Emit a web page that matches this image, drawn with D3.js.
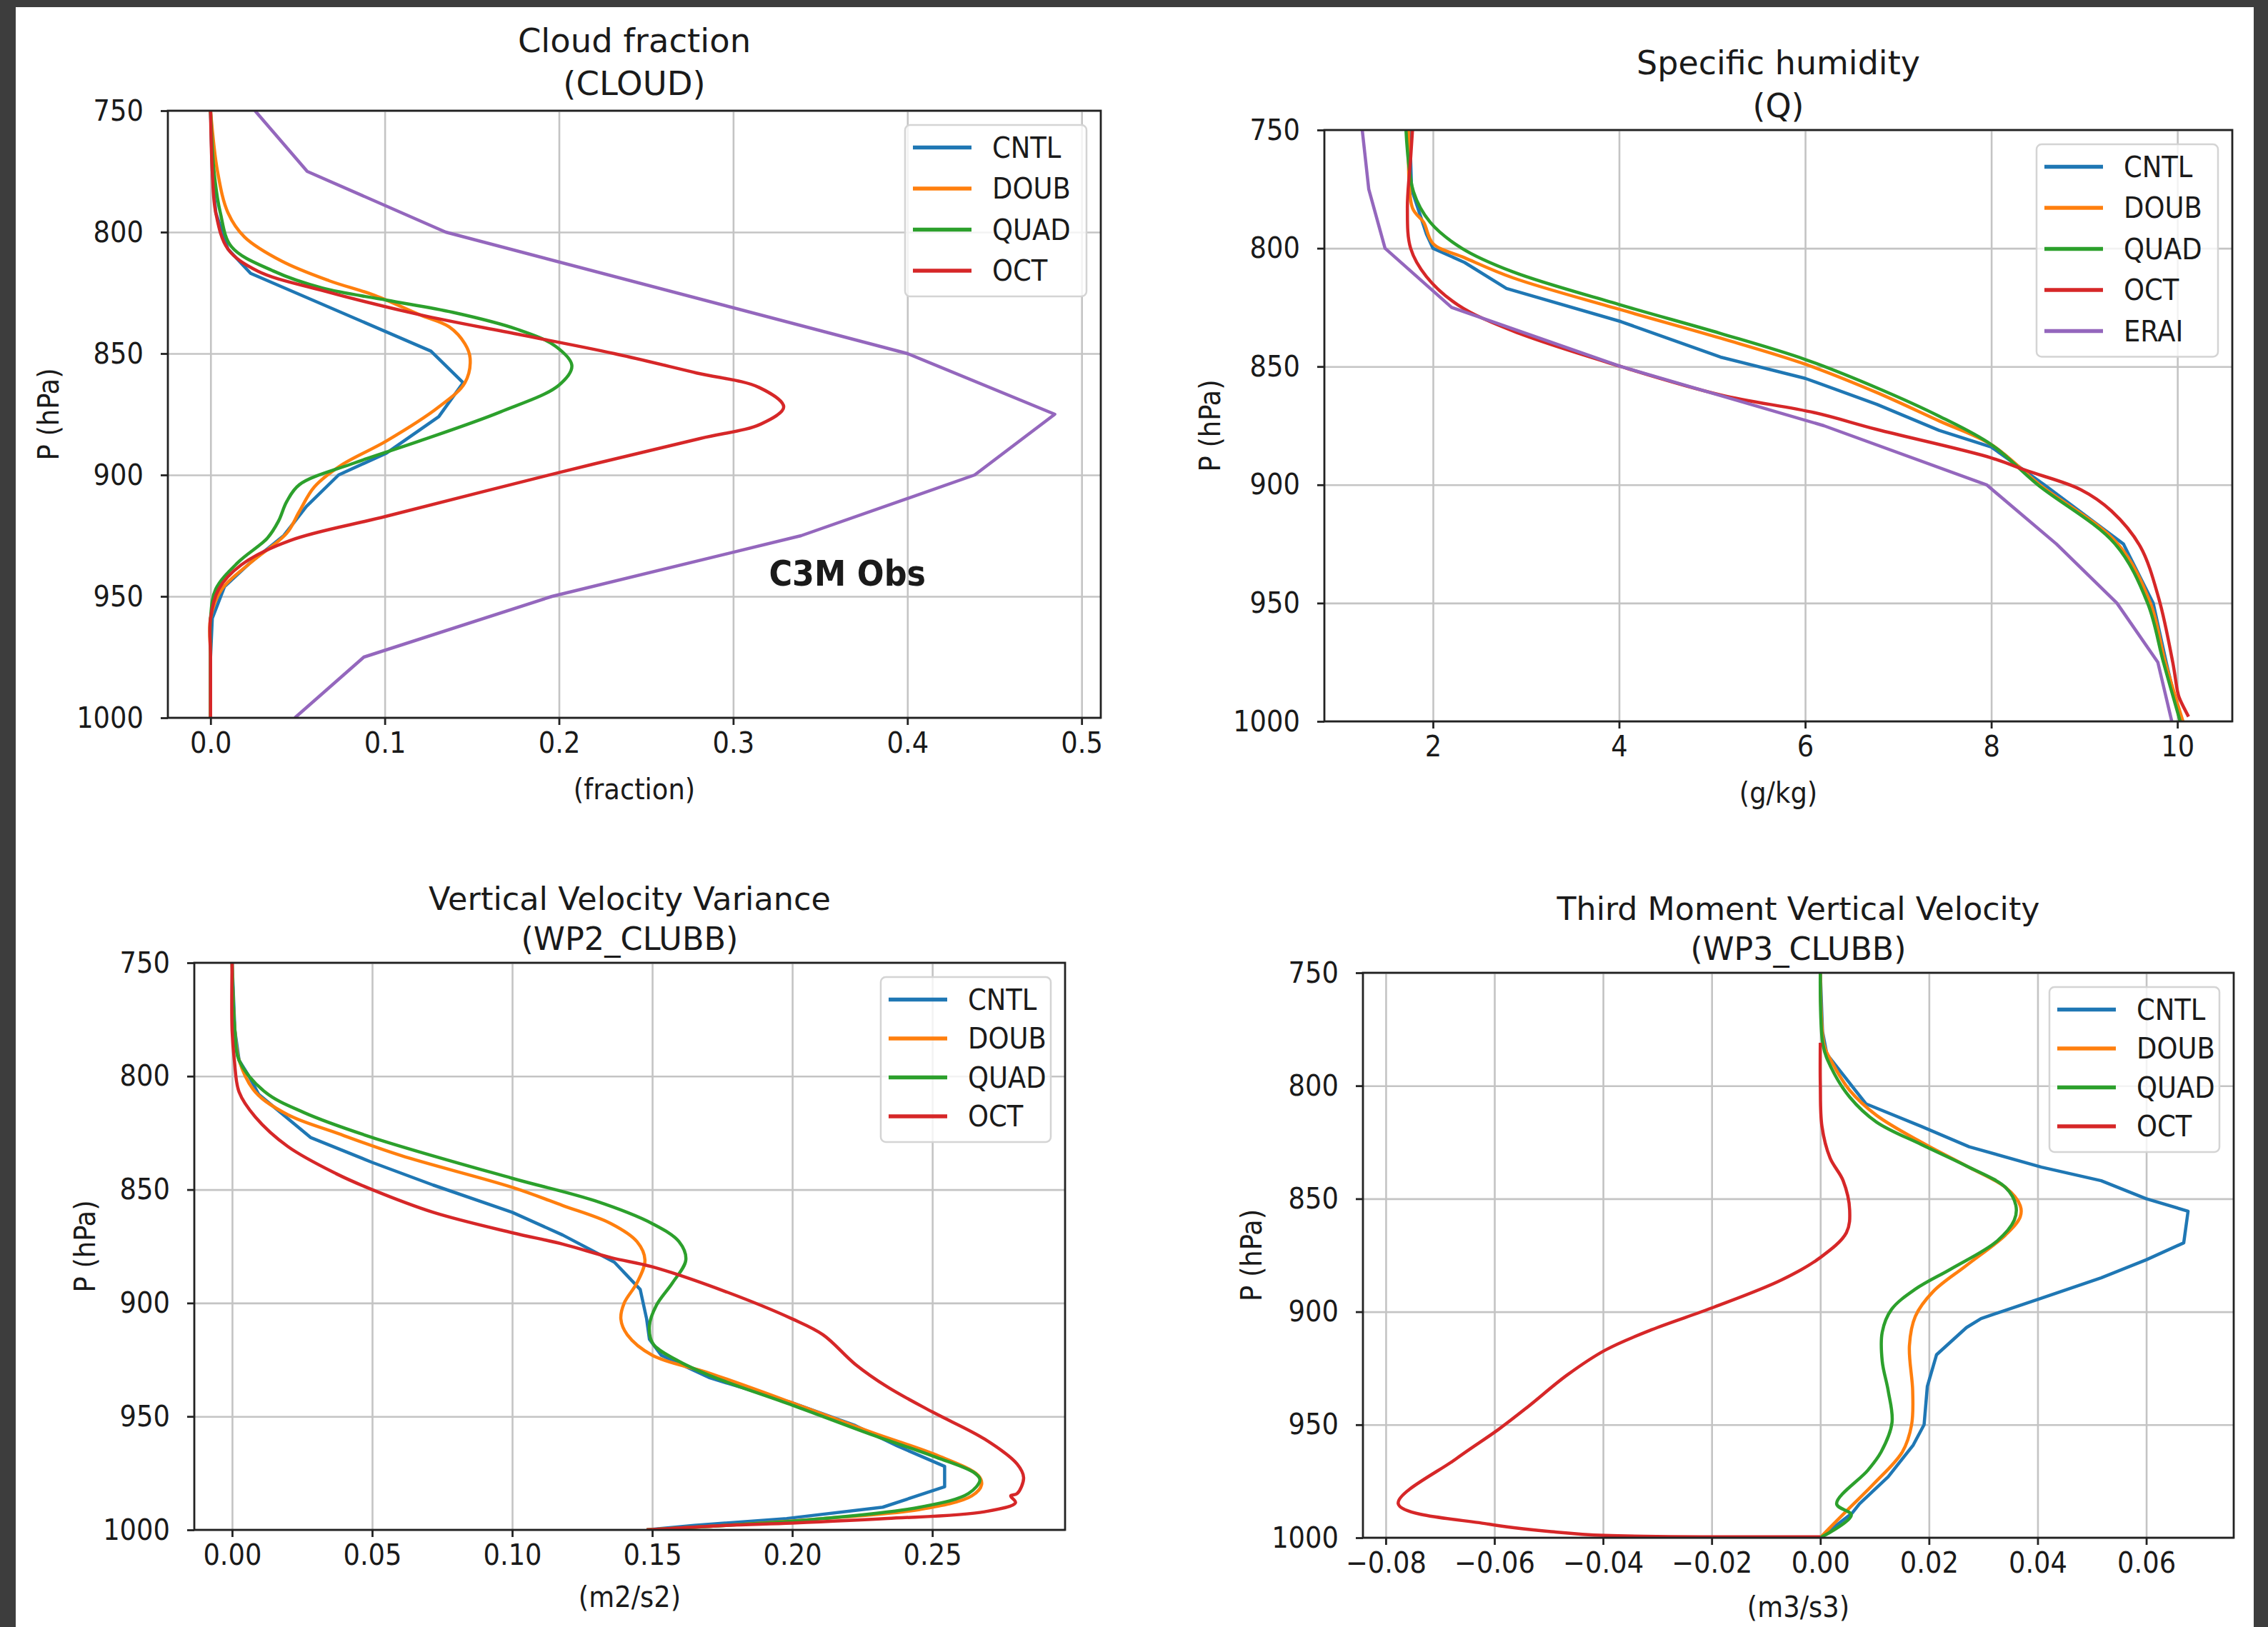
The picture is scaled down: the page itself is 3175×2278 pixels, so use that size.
<!DOCTYPE html>
<html><head><meta charset="utf-8">
<script src="https://cdn.jsdelivr.net/npm/d3@7"></script>
<style>
html,body{margin:0;padding:0;background:#fff;}
svg{display:block;}
text{font-family:"DejaVu Sans Condensed","DejaVu Sans",sans-serif;font-stretch:condensed;fill:#1a1a1a;}
.ttl{font-family:"DejaVu Sans",sans-serif;font-stretch:normal;}
</style></head><body>
<svg id="chart" width="3175" height="2278"></svg>
<script>
// ---------------- data ----------------
const seriesNames = ["CNTL","DOUB","QUAD","OCT"];
const pressureTicks = [750,800,850,900,950,1000];

// Cloud fraction (CLOUD)
const cloudXTicks = [0.0,0.1,0.2,0.3,0.4,0.5];
const cloudCNTL_p = [750,775,792,807,817,849,862,876,891,900,913,925,936,946,959,975,1000];
const cloudCNTL_v = [0.0,0.001,0.003,0.010,0.023,0.1265,0.145,0.131,0.101,0.0735,0.055,0.042,0.023,0.008,0.001,0.0,0.0];
const cloudDOUB_p = [750,775,792,802,812,820,826,834,839,846,852,862,872,886,896,905,915,924,936,947,959,975,1000];
const cloudDOUB_v = [0.0,0.004,0.010,0.0195,0.041,0.068,0.094,0.12,0.137,0.146,0.149,0.146,0.131,0.101,0.075,0.0595,0.051,0.0437,0.0232,0.0065,0.0,0.0,0.0];
const cloudQUAD_p = [750,775,792,806,816,823,828,833,840,847,855,863,874,886,895,904,911,919,926,936,947,959,975,1000];
const cloudQUAD_v = [0.0,0.002,0.0056,0.012,0.036,0.064,0.101,0.139,0.176,0.198,0.2074,0.200,0.1665,0.12,0.0828,0.051,0.0437,0.039,0.0326,0.0158,0.003,0.0,0.0,0.0];
const cloudOCT_p = [750,775,792,807,816,824,834,842,850,858,864,872,879,885,899,917,927,937,947,959,975,1000];
const cloudOCT_v = [0.0,0.001,0.003,0.010,0.027,0.064,0.12,0.176,0.2316,0.279,0.315,0.329,0.316,0.281,0.2,0.101,0.0456,0.0177,0.0047,0.0,0.0,0.0];
const cloudObs_p = [750,775,800,850,875,900,925,950,975,1000];
const cloudObs_v = [0.0255,0.0555,0.135,0.400,0.4846,0.4386,0.339,0.196,0.088,0.0484];
const cloudObsLabel = "C3M Obs";

// Specific humidity (Q), g/kg
const qXTicks = [2,4,6,8,10];
const qCNTL_p = [750,775,794,800,806,817,831,846,855,866,877,884,900,925,950,975,1000];
const qCNTL_v = [1.75,1.77,1.93,2.0,2.34,2.79,4.02,5.09,6.0,6.77,7.44,8.0,8.57,9.42,9.74,9.88,10.03];
const qDOUB_p = [750,783,789,798,804,812.5,826,838,849,861,873,883,900,925,950,975,1000];
const qDOUB_v = [1.74,1.78,1.90,2.0,2.34,2.86,4.02,5.09,6.0,6.77,7.44,8.0,8.52,9.36,9.71,9.87,10.06];
const qQUAD_p = [750,776,789,800,810,824,836,847,859,871,883,900,925,950,975,1000];
const qQUAD_v = [1.71,1.79,1.97,2.31,2.86,4.02,5.09,6.0,6.77,7.44,8.0,8.50,9.33,9.68,9.85,10.03];
const qOCT_p = [750,762,783,800,812,824,835,850,862,869.5,876.6,888.6,894,902,911,926,948,975,987,990,998];
const qOCT_v = [1.78,1.76,1.725,1.76,1.93,2.27,2.86,4.02,5.09,6.1,6.77,8.0,8.38,8.96,9.29,9.6,9.8,9.95,10.0,10.02,10.12];
const qERAI_p = [750,775,800,825,850,875,900,925,950,975,1000];
const qERAI_v = [1.24,1.31,1.485,2.2,4.02,6.2,7.95,8.7,9.35,9.79,9.94];

// Vertical velocity variance (WP2_CLUBB), m2/s2
const wp2XTicks = [0.00,0.05,0.10,0.15,0.20,0.25];
const wp2CNTL_p = [750,780,793,800,808,827,838,848,860,870,882,894,907,916,923,933,944,954,963,972,981,990,995,998,1000];
const wp2CNTL_v = [0.0,0.001,0.0025,0.006,0.0095,0.028,0.05,0.0718,0.10,0.118,0.1365,0.1457,0.148,0.149,0.1532,0.1706,0.20,0.2225,0.2375,0.2544,0.2544,0.2323,0.198,0.165,0.148];
const wp2DOUB_p = [750,780,793,807,817,825,835,849,857,865,873,881,891,900,907,914,923,931,944,957,967,976,980,985,991,995,998,1000];
const wp2DOUB_v = [0.0,0.001,0.0025,0.0083,0.0199,0.0372,0.0603,0.10,0.118,0.1353,0.1446,0.1474,0.1446,0.14,0.1388,0.1411,0.15,0.1706,0.20,0.2283,0.2514,0.2664,0.2676,0.2641,0.2456,0.2110,0.1763,0.148];
const wp2QUAD_p = [750,780,793,807,816,827,845,855,865,873,881,891,901,910,918,925,932,945,958,968,975,978,984,990,995,998,1000];
const wp2QUAD_v = [0.0,0.001,0.0025,0.0118,0.0256,0.05,0.10,0.1297,0.15,0.1596,0.162,0.1573,0.1515,0.149,0.1503,0.1585,0.1706,0.20,0.2283,0.2514,0.2652,0.2670,0.2629,0.2456,0.2110,0.1763,0.148];
const wp2OCT_p = [750,780,793,807,818,831,843,850,860,869,874,880,884,895,907,914,927,937,948,960,971,977,984,985,988,992,995,997,998,1000];
const wp2OCT_v = [0.0,0.0,0.0008,0.0025,0.0083,0.0199,0.0372,0.05,0.0718,0.10,0.118,0.1353,0.15,0.1763,0.20,0.2110,0.2225,0.234,0.25,0.2687,0.2803,0.2826,0.2803,0.278,0.2797,0.2687,0.234,0.20,0.1763,0.148];

// Third moment vertical velocity (WP3_CLUBB), m3/s3
const wp3XTicks = [-0.08,-0.06,-0.04,-0.02,0.00,0.02,0.04,0.06];
const wp3CNTL_p = [750,776,786,797,808,818,827,836,842,850,855.5,869.5,877,885,894,903,907,919,933,950,959,973,985,989,1000];
const wp3CNTL_v = [0.0,0.0004,0.0012,0.0048,0.0084,0.0186,0.0274,0.0407,0.0517,0.06,0.0677,0.0669,0.06,0.0517,0.0407,0.0296,0.0269,0.0214,0.0197,0.0191,0.0171,0.0125,0.0072,0.0059,0.0];
const wp3DOUB_p = [750,782,789,802,813,825,835.5,845,853,858,866,879.5,891,902,915,935,950,962,976,987,995,1000];
const wp3DOUB_v = [0.0,0.0007,0.002,0.0054,0.0103,0.0186,0.0269,0.0341,0.0368,0.0368,0.0341,0.0269,0.0208,0.0175,0.0164,0.017,0.0168,0.0151,0.0099,0.0053,0.002,0.0];
const wp3QUAD_p = [750,782,792,805,816,826,835.5,845,853,859.5,869,881,890,899,909,922,935,949,962,970,985,990,1000];
const wp3QUAD_v = [0.0,0.0005,0.002,0.0054,0.0103,0.0186,0.0269,0.0341,0.036,0.0357,0.0324,0.0241,0.0175,0.0131,0.0114,0.0114,0.0125,0.0132,0.0112,0.0088,0.003,0.0057,0.0];
const wp3OCT_p = [781,799,818,832,842,855,865,876,886,898,908,917,928,942,952,965,985,994,997.4,999,999.6];
const wp3OCT_v = [0.0,0.0,0.0003,0.0018,0.0042,0.0054,0.0048,0.0,-0.0072,-0.0196,-0.0311,-0.0396,-0.0466,-0.0538,-0.0592,-0.067,-0.0777,-0.061,-0.049,-0.0396,0.0];

// ---------------- drawing ----------------
const colors = {CNTL:"#1f77b4",DOUB:"#ff7f0e",QUAD:"#2ca02c",OCT:"#d62728",ERAI:"#9467bd",OBS:"#9467bd"};
const zip = (ps, vs) => ps.map((p,i)=>({p:p, v:vs[i]}));

const svg = d3.select("#chart");
svg.append("rect").attr("x",0).attr("y",0).attr("width",3175).attr("height",2278).attr("fill","#ffffff");
// dark screenshot frame
svg.append("rect").attr("x",0).attr("y",0).attr("width",3175).attr("height",10).attr("fill","#3d3d3d");
svg.append("rect").attr("x",0).attr("y",0).attr("width",22).attr("height",2278).attr("fill","#3d3d3d");
svg.append("rect").attr("x",3155).attr("y",0).attr("width",20).attr("height",2278).attr("fill","#3d3d3d");

const panels = [
  {box:{l:235,r:1541,t:155,b:1005}, xd:[-0.0245,0.511], ticks:cloudXTicks, fmt:d3.format(".1f"),
   title:["Cloud fraction","(CLOUD)"], tsz:46.5, t1:82, t2:22, xlo:100, ylo:167, xlabel:"(fraction)",
   series:[{n:"CNTL",d:zip(cloudCNTL_p,cloudCNTL_v),lin:true},{n:"DOUB",d:zip(cloudDOUB_p,cloudDOUB_v)},
           {n:"QUAD",d:zip(cloudQUAD_p,cloudQUAD_v)},{n:"OCT",d:zip(cloudOCT_p,cloudOCT_v)},
           {n:"OBS",d:zip(cloudObs_p,cloudObs_v),lin:true}],
   legend:["CNTL","DOUB","QUAD","OCT"]},
  {box:{l:1854,r:3125,t:182,b:1010}, xd:[0.833,10.59], ticks:qXTicks, fmt:d3.format("d"),
   title:["Specific humidity","(Q)"], tsz:46, t1:78, t2:18, xlo:100, ylo:160, xlabel:"(g/kg)",
   series:[{n:"CNTL",d:zip(qCNTL_p,qCNTL_v),lin:true},{n:"DOUB",d:zip(qDOUB_p,qDOUB_v)},
           {n:"QUAD",d:zip(qQUAD_p,qQUAD_v)},{n:"OCT",d:zip(qOCT_p,qOCT_v)},
           {n:"ERAI",d:zip(qERAI_p,qERAI_v),lin:true}],
   legend:["CNTL","DOUB","QUAD","OCT","ERAI"]},
  {box:{l:272,r:1491,t:1348,b:2142}, xd:[-0.0135,0.2974], ticks:wp2XTicks, fmt:d3.format(".2f"),
   title:["Vertical Velocity Variance","(WP2_CLUBB)"], tsz:44.6, t1:74, t2:18, xlo:94, ylo:153, xlabel:"(m2/s2)",
   series:[{n:"CNTL",d:zip(wp2CNTL_p,wp2CNTL_v),lin:true},{n:"DOUB",d:zip(wp2DOUB_p,wp2DOUB_v)},
           {n:"QUAD",d:zip(wp2QUAD_p,wp2QUAD_v)},{n:"OCT",d:zip(wp2OCT_p,wp2OCT_v)}],
   legend:["CNTL","DOUB","QUAD","OCT"]},
  {box:{l:1908,r:3127,t:1362,b:2153}, xd:[-0.0842,0.0761], ticks:wp3XTicks, fmt:d3.format(".2f"),
   title:["Third Moment Vertical Velocity","(WP3_CLUBB)"], tsz:44.3, t1:74, t2:18, xlo:97, ylo:156, xlabel:"(m3/s3)",
   series:[{n:"CNTL",d:zip(wp3CNTL_p,wp3CNTL_v),lin:true},{n:"DOUB",d:zip(wp3DOUB_p,wp3DOUB_v)},
           {n:"QUAD",d:zip(wp3QUAD_p,wp3QUAD_v)},{n:"OCT",d:zip(wp3OCT_p,wp3OCT_v)}],
   legend:["CNTL","DOUB","QUAD","OCT"]}
];

panels.forEach((P,pi)=>{
  const b=P.box, W=b.r-b.l, H=b.b-b.t;
  const x=d3.scaleLinear().domain(P.xd).range([b.l,b.r]);
  const y=d3.scaleLinear().domain([750,1000]).range([b.t,b.b]);
  const g=svg.append("g");
  const cid="clip"+pi;
  g.append("clipPath").attr("id",cid).append("rect").attr("x",b.l).attr("y",b.t).attr("width",W).attr("height",H);
  // grid
  const gx=g.append("g").attr("transform",`translate(0,${b.b})`)
    .call(d3.axisBottom(x).tickValues(P.ticks).tickSize(-H).tickFormat(""));
  gx.select(".domain").remove();
  gx.selectAll("line").attr("stroke","#c4c4c4").attr("stroke-width",2.6);
  const gy=g.append("g").attr("transform",`translate(${b.l},0)`)
    .call(d3.axisLeft(y).tickValues(pressureTicks).tickSize(-W).tickFormat(""));
  gy.select(".domain").remove();
  gy.selectAll("line").attr("stroke","#c4c4c4").attr("stroke-width",2.6);
  // lines
  const lines=g.append("g").attr("clip-path",`url(#${cid})`);
  P.series.forEach(s=>{
    const gen=d3.line().x(d=>x(d.v)).y(d=>y(d.p)).curve(s.lin?d3.curveLinear:d3.curveCatmullRom.alpha(0.5));
    lines.append("path").attr("d",gen(s.d)).attr("fill","none").attr("stroke",colors[s.n])
      .attr("stroke-width",4.5).attr("stroke-linejoin","round").attr("stroke-linecap","butt");
  });
  // spines
  g.append("rect").attr("x",b.l).attr("y",b.t).attr("width",W).attr("height",H)
    .attr("fill","none").attr("stroke","#222").attr("stroke-width",2.8);
  // ticks + labels
  const ax=g.append("g").attr("transform",`translate(0,${b.b})`)
    .call(d3.axisBottom(x).tickValues(P.ticks).tickFormat(P.fmt).tickSize(10).tickPadding(10));
  ax.select(".domain").remove();
  ax.selectAll("line").attr("stroke","#222").attr("stroke-width",2.8);
  ax.selectAll("text").attr("font-size",41).attr("fill","#1a1a1a").attr("font-family",null);
  const ay=g.append("g").attr("transform",`translate(${b.l},0)`)
    .call(d3.axisLeft(y).tickValues(pressureTicks).tickFormat(d3.format("d")).tickSize(10).tickPadding(24));
  ay.select(".domain").remove();
  ay.selectAll("line").attr("stroke","#222").attr("stroke-width",2.8);
  ay.selectAll("text").attr("font-size",41).attr("fill","#1a1a1a").attr("font-family",null);
  // axis labels
  g.append("text").attr("x",(b.l+b.r)/2).attr("y",b.b+P.xlo).attr("text-anchor","middle")
    .attr("dominant-baseline","central").attr("font-size",41).text(P.xlabel);
  g.append("text").attr("transform",`translate(${b.l-P.ylo},${(b.t+b.b)/2}) rotate(-90)`)
    .attr("text-anchor","middle").attr("dominant-baseline","central").attr("font-size",41).text("P (hPa)");
  // titles
  g.append("text").attr("class","ttl").attr("x",(b.l+b.r)/2).attr("y",b.t-P.t1).attr("text-anchor","middle")
    .attr("font-size",P.tsz).text(P.title[0]);
  g.append("text").attr("class","ttl").attr("x",(b.l+b.r)/2).attr("y",b.t-P.t2).attr("text-anchor","middle")
    .attr("font-size",P.tsz).text(P.title[1]);
  // legend
  const n=P.legend.length, sp=(pi<2)?57.5:54.5;
  const lw=(pi<2)?254:238, lh=31.5+36+(n-1)*sp;
  const lx=b.r-20-lw, ly=b.t+20;
  const lg=g.append("g");
  lg.append("rect").attr("x",lx).attr("y",ly).attr("width",lw).attr("height",lh).attr("rx",7)
    .attr("fill","#fff").attr("fill-opacity",0.8).attr("stroke","#d4d4d4").attr("stroke-width",2.5);
  P.legend.forEach((nm,i)=>{
    const yy=ly+31.5+i*sp;
    lg.append("line").attr("x1",lx+11).attr("x2",lx+93).attr("y1",yy).attr("y2",yy)
      .attr("stroke",colors[nm]).attr("stroke-width",5.5);
    lg.append("text").attr("x",lx+122).attr("y",yy).attr("dominant-baseline","central")
      .attr("font-size",41).text(nm);
  });
  if(pi===0){
    g.append("text").attr("x",x(0.3205)).attr("y",y(945.6)).attr("font-size",49.5).attr("font-weight","bold")
      .attr("fill","#000").text(cloudObsLabel);
  }
});
</script></body></html>
